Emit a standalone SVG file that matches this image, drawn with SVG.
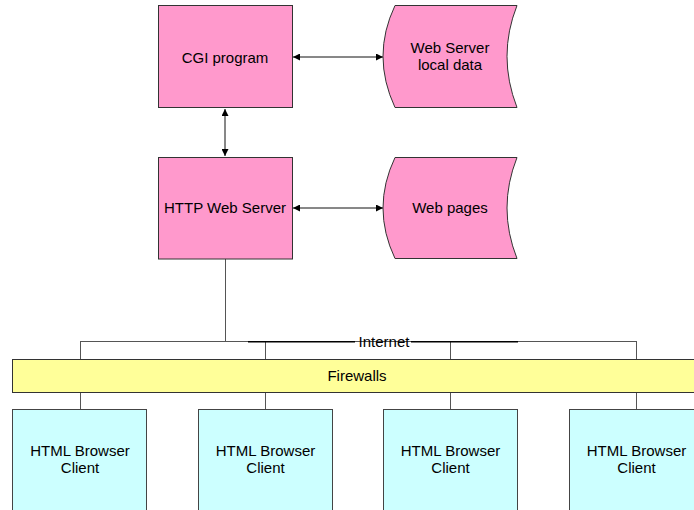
<svg xmlns="http://www.w3.org/2000/svg" width="694" height="510" viewBox="0 0 694 510">
  <defs>
    <marker id="arr" viewBox="0 0 10 10" refX="10" refY="5" markerWidth="9" markerHeight="7" markerUnits="userSpaceOnUse" orient="auto-start-reverse">
      <path d="M0,0 L10,5 L0,10 Z" fill="#000"/>
    </marker>
    <style>
      text { font-family: "Liberation Sans", Arial, sans-serif; font-size: 15px; fill: #000; text-anchor: middle; }
      .pink { fill: #FF99CC; stroke: #333; stroke-width: 1; }
      .cyan { fill: #CCFFFF; stroke: #444; stroke-width: 1; }
      .bar { fill: #FFFF99; stroke: #333; stroke-width: 1; }
      .link { fill: none; stroke: #555; stroke-width: 1; }
      .arrow { fill: none; stroke: #111; stroke-width: 1; marker-start: url(#arr); marker-end: url(#arr); }
      .net { fill: none; stroke: #000; stroke-width: 1.6; }
    </style>
  </defs>
  <rect width="694" height="510" fill="#fff"/>

  <!-- connectors -->
  <g id="connectors">
    <line class="arrow" x1="293" y1="57" x2="383" y2="57"/>
    <line class="arrow" x1="225" y1="109" x2="225" y2="156"/>
    <line class="arrow" x1="293" y1="208" x2="383" y2="208"/>
    <line class="link" x1="225.5" y1="259" x2="225.5" y2="341.5"/>
    <line class="link" x1="80" y1="341.5" x2="636.5" y2="341.5"/>
    <path class="link" d="M80.5,341 V359 M265.5,341 V359 M450.5,341 V359 M636.5,341 V359"/>
    <path class="link" d="M80.5,393 V409 M265.5,393 V409 M450.5,393 V409 M636.5,393 V409"/>
    <path class="net" d="M248,341.8 H355 M411,341.8 H518"/>
    <text x="384" y="347">Internet</text>
  </g>

  <g id="cgi">
    <rect class="pink" x="158.5" y="5.5" width="134" height="102"/>
    <text x="225" y="63">CGI program</text>
  </g>

  <g id="localdata">
    <path class="pink" d="M395,5.5 L517,5.5 Q497,56 517,107.5 L395,107.5 Q371,56 395,5.5 Z"/>
    <text x="450" y="53">Web Server</text>
    <text x="450" y="70">local data</text>
  </g>

  <g id="httpserver">
    <rect class="pink" x="158.5" y="157.5" width="134" height="101.5"/>
    <text x="225" y="213">HTTP Web Server</text>
  </g>

  <g id="webpages">
    <path class="pink" d="M395,157.5 L517,157.5 Q497,208 517,258.5 L395,258.5 Q371,208 395,157.5 Z"/>
    <text x="450" y="213">Web pages</text>
  </g>

  <g id="firewalls">
    <rect class="bar" x="12.5" y="359.5" width="690" height="33"/>
    <text x="357" y="381">Firewalls</text>
  </g>

  <g id="client1">
    <rect class="cyan" x="12.5" y="409.5" width="134" height="110"/>
    <text x="80" y="456">HTML Browser</text>
    <text x="80" y="473">Client</text>
  </g>
  <g id="client2">
    <rect class="cyan" x="198.5" y="409.5" width="134" height="110"/>
    <text x="265.5" y="456">HTML Browser</text>
    <text x="265.5" y="473">Client</text>
  </g>
  <g id="client3">
    <rect class="cyan" x="383.5" y="409.5" width="134" height="110"/>
    <text x="450.5" y="456">HTML Browser</text>
    <text x="450.5" y="473">Client</text>
  </g>
  <g id="client4">
    <rect class="cyan" x="569.5" y="409.5" width="134" height="110"/>
    <text x="636.5" y="456">HTML Browser</text>
    <text x="636.5" y="473">Client</text>
  </g>
</svg>
